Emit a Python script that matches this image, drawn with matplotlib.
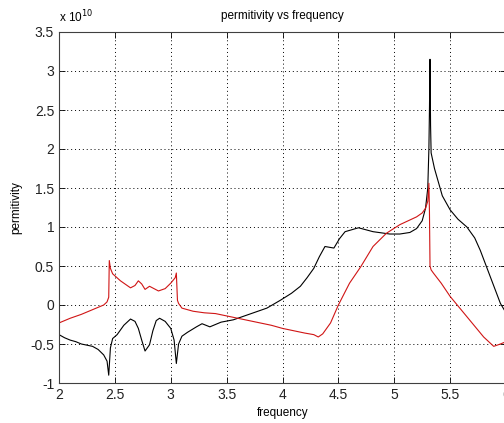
import numpy as np
import matplotlib
matplotlib.use('Agg')
import matplotlib.pyplot as plt
from matplotlib.ticker import FormatStrFormatter

plt.rcParams['font.family'] = ['Liberation Sans', 'DejaVu Sans']
plt.rcParams['axes.unicode_minus'] = False

# permitivity values in units of 1e10
red_x = [2.0, 2.1, 2.2, 2.3, 2.4, 2.43, 2.445, 2.45, 2.46, 2.48, 2.55, 2.64, 2.68,
         2.71, 2.74, 2.77, 2.81, 2.85, 2.89, 2.95, 3.0, 3.04, 3.05, 3.06, 3.07, 3.1,
         3.2, 3.3, 3.4, 3.5, 3.6, 3.7, 3.8, 3.9, 4.0, 4.1, 4.2, 4.28, 4.32, 4.36,
         4.43, 4.5, 4.6, 4.7, 4.81, 4.93, 5.05, 5.14, 5.2, 5.25, 5.28, 5.3, 5.31,
         5.315, 5.32, 5.33, 5.35, 5.42, 5.5, 5.65, 5.8, 5.89, 5.95, 6.0]
red_y = [-0.23, -0.17, -0.12, -0.06, 0.0, 0.04, 0.1, 0.57, 0.47, 0.40, 0.31, 0.22, 0.25,
         0.31, 0.27, 0.20, 0.24, 0.21, 0.18, 0.21, 0.28, 0.35, 0.41, 0.06, 0.02, -0.04,
         -0.08, -0.10, -0.11, -0.14, -0.17, -0.20, -0.23, -0.26, -0.30, -0.33, -0.36, -0.38, -0.41, -0.37,
         -0.23, 0.0, 0.28, 0.49, 0.75, 0.92, 1.03, 1.09, 1.13, 1.18, 1.24, 1.33, 1.56,
         1.2, 0.5, 0.45, 0.41, 0.28, 0.11, -0.15, -0.41, -0.53, -0.50, -0.47]

black_x = [2.0, 2.05, 2.1, 2.15, 2.2, 2.3, 2.35, 2.4, 2.43, 2.445, 2.46, 2.48, 2.52,
           2.58, 2.64, 2.68, 2.71, 2.74, 2.77, 2.81, 2.84, 2.87, 2.9, 2.95, 3.0, 3.03,
           3.05, 3.07, 3.1, 3.15, 3.23, 3.28, 3.35, 3.45, 3.56, 3.7, 3.86, 3.98, 4.08,
           4.16, 4.22, 4.28, 4.33, 4.38, 4.42, 4.46, 4.51, 4.56, 4.68, 4.81, 4.96, 5.05,
           5.14, 5.2, 5.25, 5.28, 5.3, 5.31, 5.315, 5.32, 5.325, 5.33, 5.36, 5.43, 5.5,
           5.57, 5.65, 5.72, 5.77, 5.86, 5.95, 6.0]
black_y = [-0.38, -0.42, -0.45, -0.47, -0.50, -0.53, -0.57, -0.64, -0.72, -0.90, -0.55, -0.43, -0.38,
           -0.26, -0.18, -0.21, -0.30, -0.45, -0.59, -0.51, -0.33, -0.20, -0.17, -0.21, -0.30, -0.45,
           -0.75, -0.50, -0.40, -0.35, -0.28, -0.24, -0.28, -0.22, -0.19, -0.12, -0.04, 0.06, 0.15,
           0.24, 0.35, 0.47, 0.62, 0.75, 0.74, 0.73, 0.85, 0.94, 0.99, 0.94, 0.91, 0.91,
           0.93, 0.98, 1.08, 1.24, 1.5, 2.0, 2.5, 3.15, 2.3, 1.95, 1.75, 1.4, 1.22,
           1.1, 1.0, 0.86, 0.7, 0.36, 0.02, -0.1]

x_ticks = [2, 2.5, 3, 3.5, 4, 4.5, 5, 5.5, 6]
y_ticks = [-1, -0.5, 0, 0.5, 1, 1.5, 2, 2.5, 3, 3.5]

fig = plt.figure(figsize=(5.04, 4.23), dpi=100)
ax = fig.add_axes([59/504, 40/423, 447/504, 351/423])

ax.plot(black_x, black_y, color='black', linewidth=0.8)
ax.plot(red_x, red_y, color='#d01515', linewidth=0.8)

ax.set_xlim(2, 6)
ax.set_ylim(-1, 3.5)
ax.set_xticks(x_ticks)
ax.set_yticks(y_ticks)
ax.yaxis.set_major_formatter(FormatStrFormatter('%g'))
ax.xaxis.set_major_formatter(FormatStrFormatter('%g'))
ax.tick_params(direction='in', top=True, right=True, labelsize=10, length=4, width=0.6,
               labelcolor='#222222')
ax.grid(True, linestyle=(0, (1, 3)), color='black', linewidth=0.7)
for s in ax.spines.values():
    s.set_color('#404040')
    s.set_linewidth(0.8)

ax.set_title('permitivity vs frequency', fontsize=8.5, pad=9)
ax.set_xlabel('frequency', fontsize=8.5, labelpad=4)
ax.set_ylabel('permitivity', fontsize=8.5, labelpad=6)
ax.text(0.0, 1.02, r'x 10$^{10}$', transform=ax.transAxes, fontsize=8.5, va='bottom', ha='left')

fig.savefig('out.png', dpi=100)
